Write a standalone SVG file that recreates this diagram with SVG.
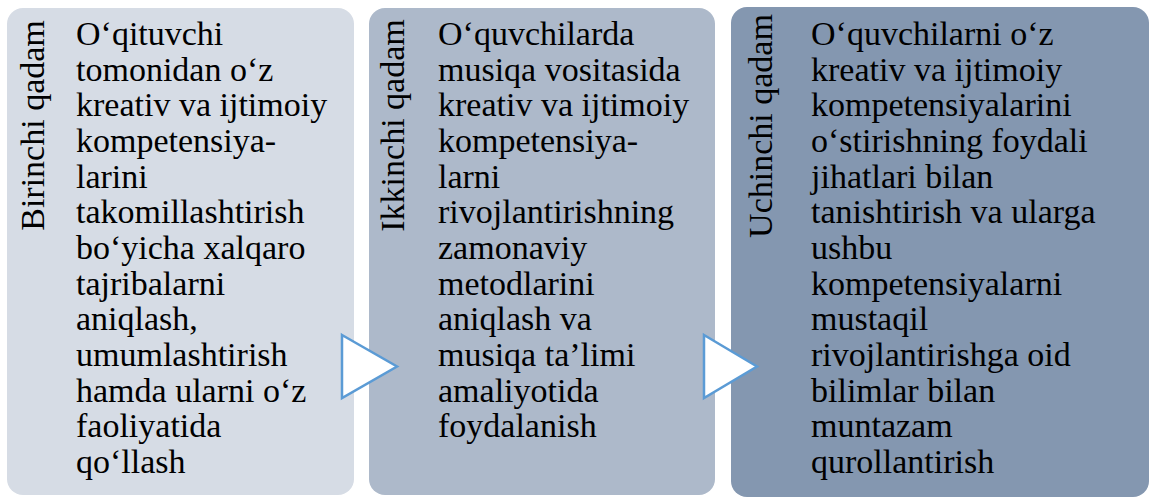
<svg xmlns="http://www.w3.org/2000/svg" width="1149" height="497" viewBox="0 0 1149 497">
<style>
text{font-family:"Liberation Serif","Times New Roman",serif;font-size:34px;fill:#000000}
.lbl{text-anchor:middle}
.arrow{fill:#ffffff;stroke:#5B9BD5;stroke-width:2.5;stroke-linejoin:miter}
</style>
<rect x="0" y="0" width="1149" height="497" fill="#ffffff"/>
<g id="step1">
<rect x="7" y="8" width="347" height="487" rx="16" ry="16" fill="#D6DCE5"/>
<text class="lbl" transform="translate(43.5,125.5) rotate(-90)">Birinchi qadam</text>
<text x="76" y="45">O&#8216;qituvchi</text>
<text x="76" y="80.7">tomonidan o&#8216;z</text>
<text x="76" y="116.3">kreativ va ijtimoiy</text>
<text x="76" y="152">kompetensiya-</text>
<text x="76" y="187.7">larini</text>
<text x="76" y="223.3">takomillashtirish</text>
<text x="76" y="259">bo&#8216;yicha xalqaro</text>
<text x="76" y="294.7">tajribalarni</text>
<text x="76" y="330.3">aniqlash,</text>
<text x="76" y="366">umumlashtirish</text>
<text x="76" y="401.7">hamda ularni o&#8216;z</text>
<text x="76" y="437.3">faoliyatida</text>
<text x="76" y="473">qo&#8216;llash</text>
</g>
<g id="step2">
<rect x="369" y="8" width="346" height="487" rx="16" ry="16" fill="#ADB9CA"/>
<text class="lbl" transform="translate(403.5,125.5) rotate(-90)">Ikkinchi qadam</text>
<text x="438" y="45">O&#8216;quvchilarda</text>
<text x="438" y="80.7">musiqa vositasida</text>
<text x="438" y="116.3">kreativ va ijtimoiy</text>
<text x="438" y="152">kompetensiya-</text>
<text x="438" y="187.7">larni</text>
<text x="438" y="223.3">rivojlantirishning</text>
<text x="438" y="259">zamonaviy</text>
<text x="438" y="294.7">metodlarini</text>
<text x="438" y="330.3">aniqlash va</text>
<text x="438" y="366">musiqa ta&#8217;limi</text>
<text x="438" y="401.7">amaliyotida</text>
<text x="438" y="437.3">foydalanish</text>
</g>
<g id="step3">
<rect x="731" y="7" width="418" height="490" rx="16" ry="16" fill="#8497B0"/>
<text class="lbl" transform="translate(772,126) rotate(-90)">Uchinchi qadam</text>
<text x="811" y="45">O&#8216;quvchilarni o&#8216;z</text>
<text x="811" y="80.7">kreativ va ijtimoiy</text>
<text x="811" y="116.3">kompetensiyalarini</text>
<text x="811" y="152">o&#8216;stirishning foydali</text>
<text x="811" y="187.7">jihatlari bilan</text>
<text x="811" y="223.3">tanishtirish va ularga</text>
<text x="811" y="259">ushbu</text>
<text x="811" y="294.7">kompetensiyalarni</text>
<text x="811" y="330.3">mustaqil</text>
<text x="811" y="366">rivojlantirishga oid</text>
<text x="811" y="401.7">bilimlar bilan</text>
<text x="811" y="437.3">muntazam</text>
<text x="811" y="473">qurollantirish</text>
</g>
<g id="connectors">
<polygon class="arrow" points="342,335 397,366.5 342,398"/>
<polygon class="arrow" points="704,335 757,366.5 704,398"/>
</g>
</svg>
